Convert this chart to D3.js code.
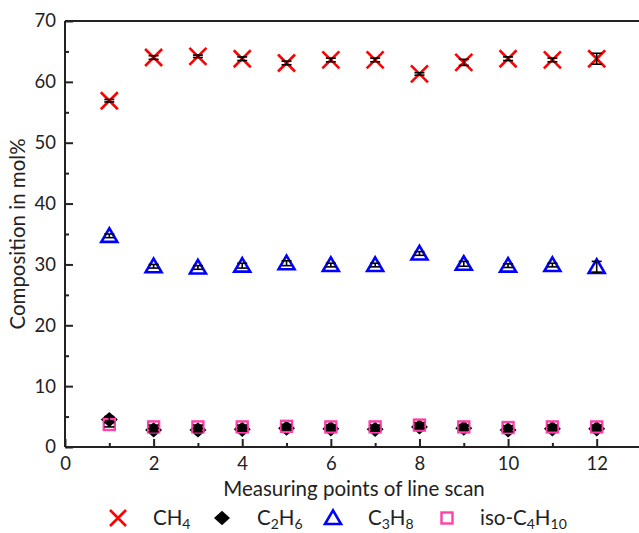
<!DOCTYPE html>
<html>
<head>
<meta charset="utf-8">
<script src="https://cdn.jsdelivr.net/npm/d3@7"></script>
<style>
  body { margin: 0; background: #fff; }
  svg { display: block; font-family: Lato, "Open Sans", sans-serif; }
</style>
</head>
<body>
<svg id="chart" width="639" height="533"></svg>
<script>
// measuring points along the line scan
const points = [1, 2, 3, 4, 5, 6, 7, 8, 9, 10, 11, 12];

// composition in mol%
const ch4 = [56.9, 64.0, 64.2, 63.8, 63.1, 63.6, 63.6, 61.3, 63.2, 63.8, 63.6, 63.8];
const c2h6 = [4.5, 2.8, 2.8, 2.9, 3.1, 3.0, 2.9, 3.3, 3.1, 2.8, 3.0, 3.0];
const c3h8 = [34.7, 29.7, 29.5, 29.8, 30.2, 29.9, 29.9, 31.8, 30.1, 29.8, 29.9, 29.6];
const iso = [3.7, 3.3, 3.3, 3.3, 3.4, 3.3, 3.3, 3.6, 3.3, 3.2, 3.3, 3.3];

// standard deviations (error bars)
const ch4Err = [0.2, 0.3, 0.2, 0.3, 0.3, 0.3, 0.3, 0.2, 0.5, 0.3, 0.3, 0.9];
const c2h6Err = [0.5, 0.3, 0.3, 0.3, 0.3, 0.3, 0.3, 0.3, 0.3, 0.3, 0.3, 0.3];
const c3h8Err = [0.3, 0.3, 0.3, 0.4, 0.4, 0.3, 0.3, 0.3, 0.4, 0.3, 0.3, 0.9];
const isoErr = [0.4, 0.3, 0.3, 0.3, 0.3, 0.3, 0.3, 0.4, 0.3, 0.3, 0.3, 0.3];

const xTicks = [0, 2, 4, 6, 8, 10, 12];
const yTicks = [0, 10, 20, 30, 40, 50, 60, 70];

const legendItems = [
    { name: ['CH', '4'], marker: 'cross' },
    { name: ['C', '2', 'H', '6'], marker: 'diamond' },
    { name: ['C', '3', 'H', '8'], marker: 'triangle' },
    { name: ['iso-C', '4', 'H', '10'], marker: 'square' }
];

const svg = d3.select('#chart');
const margin = { left: 65, top: 21 };
const plotH = 426;

const x = d3.scaleLinear().domain([0, 13]).range([margin.left, margin.left + 576]);
const y = d3.scaleLinear().domain([0, 70]).range([margin.top + plotH, margin.top]);

const axisColor = '#222';

// frame: left, bottom, top (right edge falls outside the picture)
const frame = svg.append('g');
frame.append('line').attr('x1', x(0)).attr('x2', x(0)).attr('y1', y(70)).attr('y2', y(0));
frame.append('line').attr('x1', x(0)).attr('x2', x(13)).attr('y1', y(0)).attr('y2', y(0));
frame.append('line').attr('x1', x(0)).attr('x2', x(13)).attr('y1', y(70)).attr('y2', y(70));
frame.selectAll('line').attr('stroke', axisColor).attr('stroke-width', 2);

// ticks point inward
const xAxis = svg.append('g').attr('transform', `translate(0, ${y(0)})`)
    .call(d3.axisBottom(x).tickValues(xTicks).tickSize(-8).tickPadding(10).tickFormat(d3.format('d')));
const xMinor = svg.append('g').attr('transform', `translate(0, ${y(0)})`)
    .call(d3.axisBottom(x).tickValues(points.filter(d => d % 2 == 1)).tickSize(-4).tickFormat(''));
const yAxis = svg.append('g').attr('transform', `translate(${x(0)}, 0)`)
    .call(d3.axisLeft(y).tickValues(yTicks).tickSize(-8).tickPadding(9).tickFormat(d3.format('d')));
const yMinor = svg.append('g').attr('transform', `translate(${x(0)}, 0)`)
    .call(d3.axisLeft(y).tickValues(d3.range(5, 70, 10)).tickSize(-4).tickFormat(''));
[xAxis, xMinor, yAxis, yMinor].forEach(a => {
    a.select('.domain').remove();
    a.selectAll('line').attr('stroke', axisColor).attr('stroke-width', 2);
    a.selectAll('text').attr('fill', '#222').attr('font-size', 18.5).attr('font-family', 'Lato, "Open Sans", sans-serif');
});

svg.append('text')
    .attr('x', 354).attr('y', 496)
    .attr('text-anchor', 'middle').attr('font-size', 20.5).attr('fill', '#222')
    .text('Measuring points of line scan');
svg.append('text')
    .attr('transform', `translate(25, ${(y(0) + y(70)) / 2}) rotate(-90)`)
    .attr('text-anchor', 'middle').attr('font-size', 20.5).attr('fill', '#222')
    .text('Composition in mol%');

// marker shapes
function drawMarker(g, type, size) {
    const h = size / 2;
    if (type == 'cross') {
        g.append('path').attr('d', `M${-h},${-h}L${h},${h}M${-h},${h}L${h},${-h}`)
            .attr('stroke', '#ff0000').attr('stroke-width', 2.6).attr('fill', 'none');
    } else if (type == 'diamond') {
        g.append('path').attr('d', `M0,${-h * 0.9}L${h},0L0,${h * 0.9}L${-h},0Z`).attr('fill', '#000');
    } else if (type == 'triangle') {
        g.append('path').attr('d', `M0,${-h * 0.95}L${h},${h * 0.75}L${-h},${h * 0.75}Z`)
            .attr('stroke', '#0000ff').attr('stroke-width', 2.6).attr('fill', 'none');
    } else if (type == 'square') {
        g.append('rect').attr('x', -h).attr('y', -h).attr('width', size).attr('height', size)
            .attr('stroke', '#ff40a8').attr('stroke-width', 2.4).attr('fill', 'none');
    }
}

const series = [
    { values: ch4, err: ch4Err, marker: 'cross', size: 17 },
    { values: c3h8, err: c3h8Err, marker: 'triangle', size: 16 },
    { values: c2h6, err: c2h6Err, marker: 'diamond', size: 17 },
    { values: iso, err: isoErr, marker: 'square', size: 11 }
];

series.forEach(s => {
    const g = svg.append('g');
    g.selectAll('g.pt').data(points).join('g').classed('pt', true)
        .attr('transform', (d, i) => `translate(${x(d)}, ${y(s.values[i])})`)
        .each(function() { drawMarker(d3.select(this), s.marker, s.size); });
});

// error bars on top
series.forEach(s => {
    const g = svg.append('g').attr('stroke', '#000').attr('stroke-width', 1.6);
    points.forEach((p, i) => {
        const top = y(s.values[i] + s.err[i]), bot = y(s.values[i] - s.err[i]);
        g.append('line').attr('x1', x(p)).attr('x2', x(p)).attr('y1', top).attr('y2', bot);
        g.append('line').attr('x1', x(p) - 5).attr('x2', x(p) + 5).attr('y1', top).attr('y2', top);
        g.append('line').attr('x1', x(p) - 5).attr('x2', x(p) + 5).attr('y1', bot).attr('y2', bot);
    });
});

// legend
const legendX = [118, 222, 333, 447];
const textX = [153, 257, 368, 480];
const legendY = 518;
legendItems.forEach((item, i) => {
    const mg = svg.append('g').attr('transform', `translate(${legendX[i]}, ${legendY})`);
    drawMarker(mg, item.marker, item.marker == 'square' ? 11 : 16);
    const t = svg.append('text').attr('x', textX[i]).attr('y', legendY + 7)
        .attr('font-size', 20.5).attr('fill', '#222');
    item.name.forEach((part, k) => {
        const sub = k % 2 == 1;
        t.append('tspan').attr('font-size', sub ? 14 : 20.5)
            .attr('dy', sub ? 4 : (k > 0 ? -4 : 0)).text(part);
    });
});
</script>
</body>
</html>
